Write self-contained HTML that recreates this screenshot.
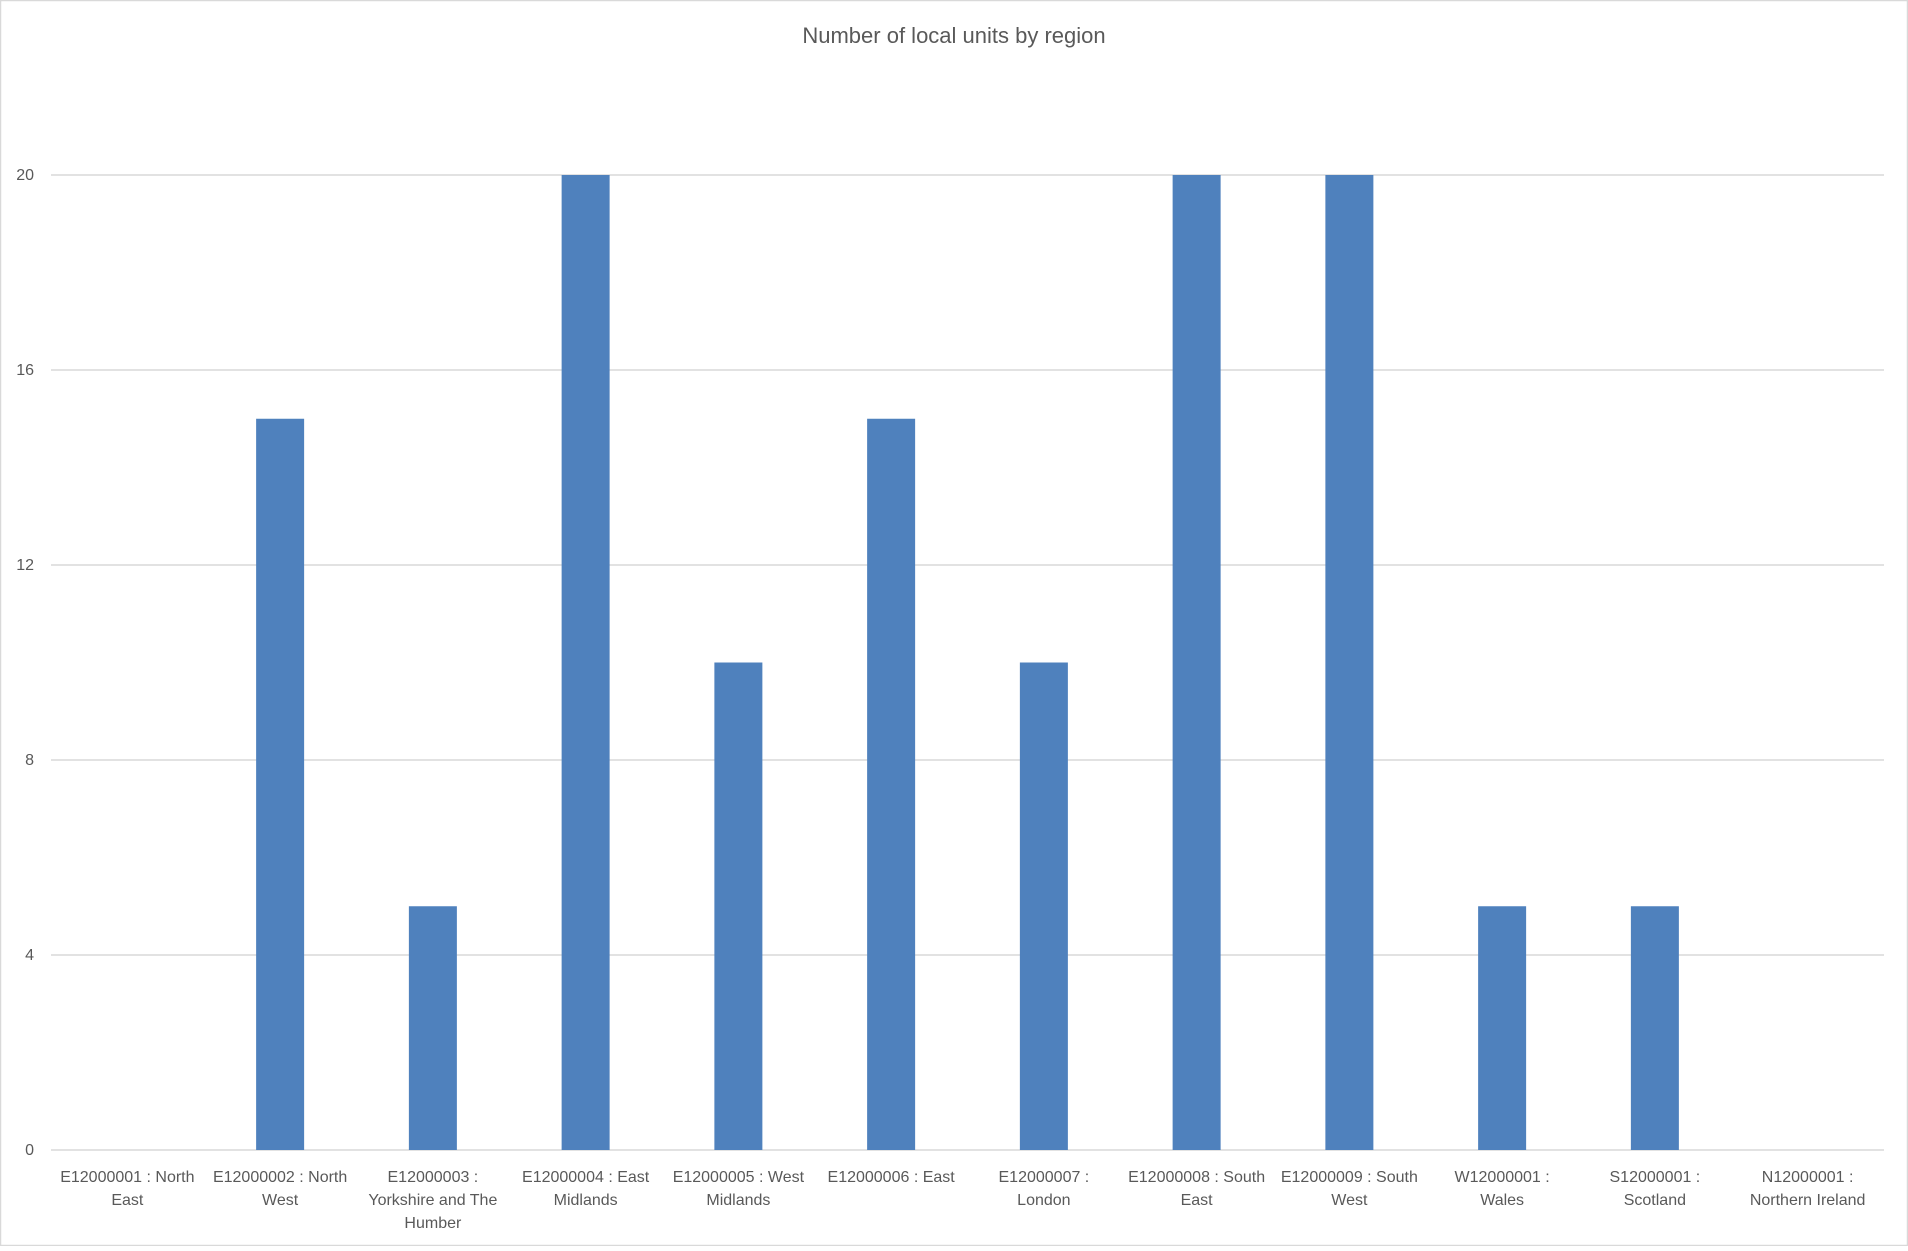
<!DOCTYPE html>
<html><head><meta charset="utf-8"><style>
html,body{margin:0;padding:0;background:#fff;}
body{width:1908px;height:1246px;overflow:hidden;font-family:"Liberation Sans",sans-serif;}
</style></head><body>
<svg id="chart" width="1908" height="1246" viewBox="0 0 1908 1246" xmlns="http://www.w3.org/2000/svg">
<rect x="0.5" y="0.5" width="1907" height="1245" fill="#fff" stroke="#d9d9d9" stroke-width="1.5"/>
<text x="954" y="43" text-anchor="middle" font-family="Liberation Sans, sans-serif" font-size="22" fill="#595959">Number of local units by region</text>
<g id="grid"></g><g id="bars"></g><g id="ylabels"></g><g id="xlabels"></g>
</svg>
<script>
const categories = [["E12000001 : North","East"],["E12000002 : North","West"],["E12000003 :","Yorkshire and The","Humber"],["E12000004 : East","Midlands"],["E12000005 : West","Midlands"],["E12000006 : East"],["E12000007 :","London"],["E12000008 : South","East"],["E12000009 : South","West"],["W12000001 :","Wales"],["S12000001 :","Scotland"],["N12000001 :","Northern Ireland"]];
const values = [0,15,5,20,10,15,10,20,20,5,5,0];
const yTicks = [0,4,8,12,16,20];
const NS="http://www.w3.org/2000/svg";
const L=51,R=1884,Y0=1150,Y20=175,yMax=20;
const n=categories.length, step=(R-L)/n, bw=48;
const ys=v=>Y0-(v/yMax)*(Y0-Y20);
const xc=i=>L+step*(i+0.5);
function mk(t,a,p){const e=document.createElementNS(NS,t);for(const k in a)e.setAttribute(k,a[k]);p.appendChild(e);return e;}
const grid=document.getElementById('grid'),bars=document.getElementById('bars'),yl=document.getElementById('ylabels'),xl=document.getElementById('xlabels');
yTicks.forEach(t=>{
 const ln=mk('line',{x1:L,x2:R,y1:ys(t),y2:ys(t),stroke:'#d9d9d9','stroke-width':1.5},grid);
 
 
 const tx=mk('text',{x:34,y:ys(t)+5,'text-anchor':'end','font-size':16,fill:'#595959','font-family':'Liberation Sans, sans-serif'},yl);
 tx.textContent=t;
 
 
});
values.forEach((v,i)=>{
 if(v>0){const b=mk('rect',{x:xc(i)-bw/2,y:ys(v),width:bw,height:Y0-ys(v),fill:'#4f81bd'},bars);
 
 }
 const tx=mk('text',{'text-anchor':'middle','font-size':16,fill:'#595959','font-family':'Liberation Sans, sans-serif'},xl);
 
 
 categories[i].forEach((s,j)=>{const ts=mk('tspan',{x:xc(i),y:1182+j*23},tx);ts.textContent=s;});
});
</script>
</body></html>
